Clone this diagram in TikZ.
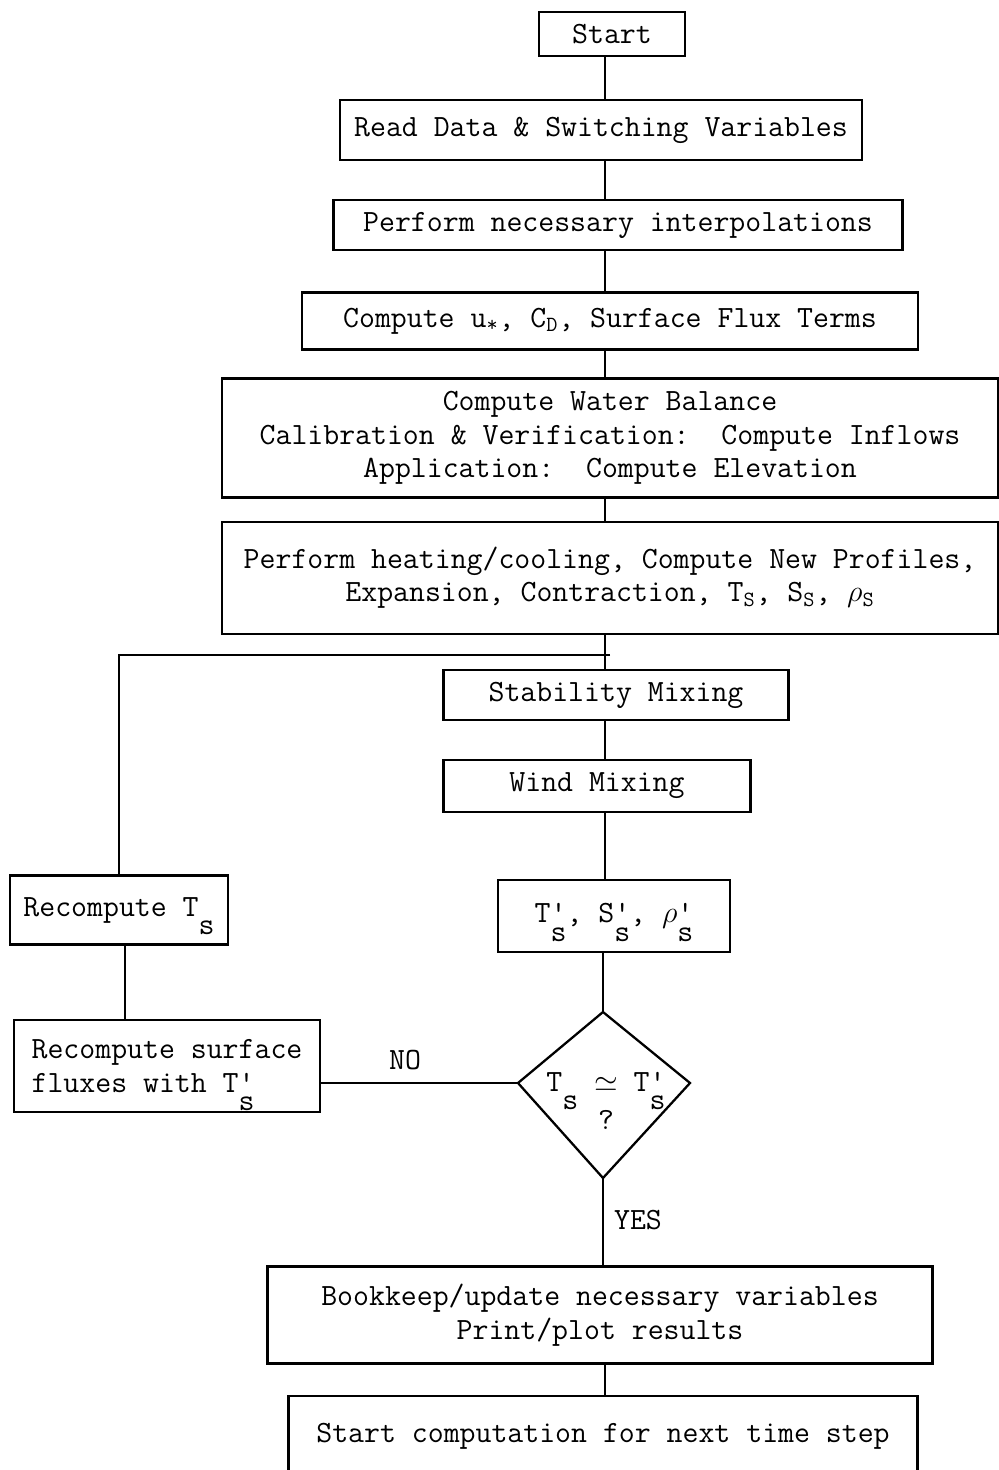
\documentclass[tikz,border=0pt]{standalone}
\usepackage{fontspec}
\newcommand{\lo}[1]{\raisebox{-0.6em}[\height][0pt]{#1}}
\newcommand{\pq}[1]{\rlap{\textquotesingle}\raisebox{-0.6em}[\height][0pt]{#1}}
\tikzset{
  box/.style={draw, line width=1.3pt, inner sep=0pt, align=center,
    font=\ttfamily\fontsize{17.6}{19}\selectfont},
  lnk/.style={line width=1.3pt},
  lbl/.style={font=\ttfamily\fontsize{17.6}{19}\selectfont, inner sep=0pt}
}
\begin{document}
\begin{tikzpicture}[x=0.02cm, y=-0.02cm]
\useasboundingbox (0,0) rectangle (999,1470);
\clip (0,0) rectangle (999,1470);
\coordinate (col) at (605,0);
\node[box, minimum width=2.92cm, minimum height=0.88cm] (start) at (612,34) {Start};
\node[box, minimum width=10.44cm, minimum height=1.2cm] (read) at (601,130) {Read Data \& Switching Variables};
\node[box, minimum width=11.38cm, minimum height=1.0cm] (interp) at (618,225) {Perform necessary interpolations};
\node[box, minimum width=12.32cm, minimum height=1.14cm] (ustar) at (610,321) {Compute u\textsubscript{*}, C\textsubscript{D}, Surface Flux Terms};
\node[box, minimum width=15.52cm, minimum height=2.38cm] (water) at (610,438) {Compute Water Balance\\Calibration \& Verification:\ \ Compute Inflows\\Application:\ \ Compute Elevation};
\node[box, minimum width=15.52cm, minimum height=2.24cm] (heat) at (610,578) {Perform heating/cooling, Compute New Profiles,\\Expansion, Contraction, T\textsubscript{S}, S\textsubscript{S}, $\rho$\textsubscript{S}};
\node[box, minimum width=6.9cm, minimum height=1.0cm] (stab) at (616,695) {Stability Mixing};
\node[box, minimum width=6.14cm, minimum height=1.04cm] (wind) at (597,786) {Wind Mixing};
\node[box, minimum width=4.64cm, minimum height=1.44cm] (tp) at (614,916) {T\pq{s}, S\pq{s}, $\rho$\pq{s}};
\node[box, minimum width=4.36cm, minimum height=1.38cm] (rect) at (119,910) {Recompute T\lo{s}};
\node[box, minimum width=6.12cm, minimum height=1.84cm, align=left] (flux) at (167,1066) {Recompute surface\\fluxes with T\pq{s}};
\coordinate (dt) at (603,1012);
\coordinate (dl) at (518,1083);
\coordinate (dr) at (690,1083);
\coordinate (db) at (603,1178);
\draw[lnk, line join=miter] (dt) -- (dr) -- (db) -- (dl) -- cycle;
\node[lbl, align=center] (dtext) at (606,1101) {T\lo{s} $\simeq$ T\pq{s}\\[3pt]?};
\node[box, minimum width=13.3cm, minimum height=1.94cm] (book) at (600,1315) {Bookkeep/update necessary variables\\Print/plot results};
\node[box, minimum width=12.58cm, minimum height=1.6cm] (next) at (603,1436) {Start computation for next time step};
\node[lbl] (no) at (405,1060) {NO};
\node[lbl] (yes) at (638,1220) {YES};
% connectors
\draw[lnk] (start.south -| col) -- (read.north -| col);
\draw[lnk] (read.south -| col) -- (interp.north -| col);
\draw[lnk] (interp.south -| col) -- (ustar.north -| col);
\draw[lnk] (ustar.south -| col) -- (water.north -| col);
\draw[lnk] (water.south -| col) -- (heat.north -| col);
\draw[lnk] (heat.south -| col) -- (stab.north -| col);
\draw[lnk] (stab.south -| col) -- (wind.north -| col);
\draw[lnk] (wind.south -| col) -- (tp.north -| col);
\draw[lnk] (tp.south -| dt) -- (dt);
\draw[lnk] (db) -- (book.north -| db);
\draw[lnk] (book.south -| col) -- (next.north -| col);
\coordinate (br) at (610,655);
\draw[lnk] (br) -- (br -| rect.north) -- (rect.north);
\coordinate (rl) at (125,0);
\draw[lnk] (rect.south -| rl) -- (flux.north -| rl);
\draw[lnk] (flux.east |- dl) -- (dl);
\end{tikzpicture}
\end{document}
